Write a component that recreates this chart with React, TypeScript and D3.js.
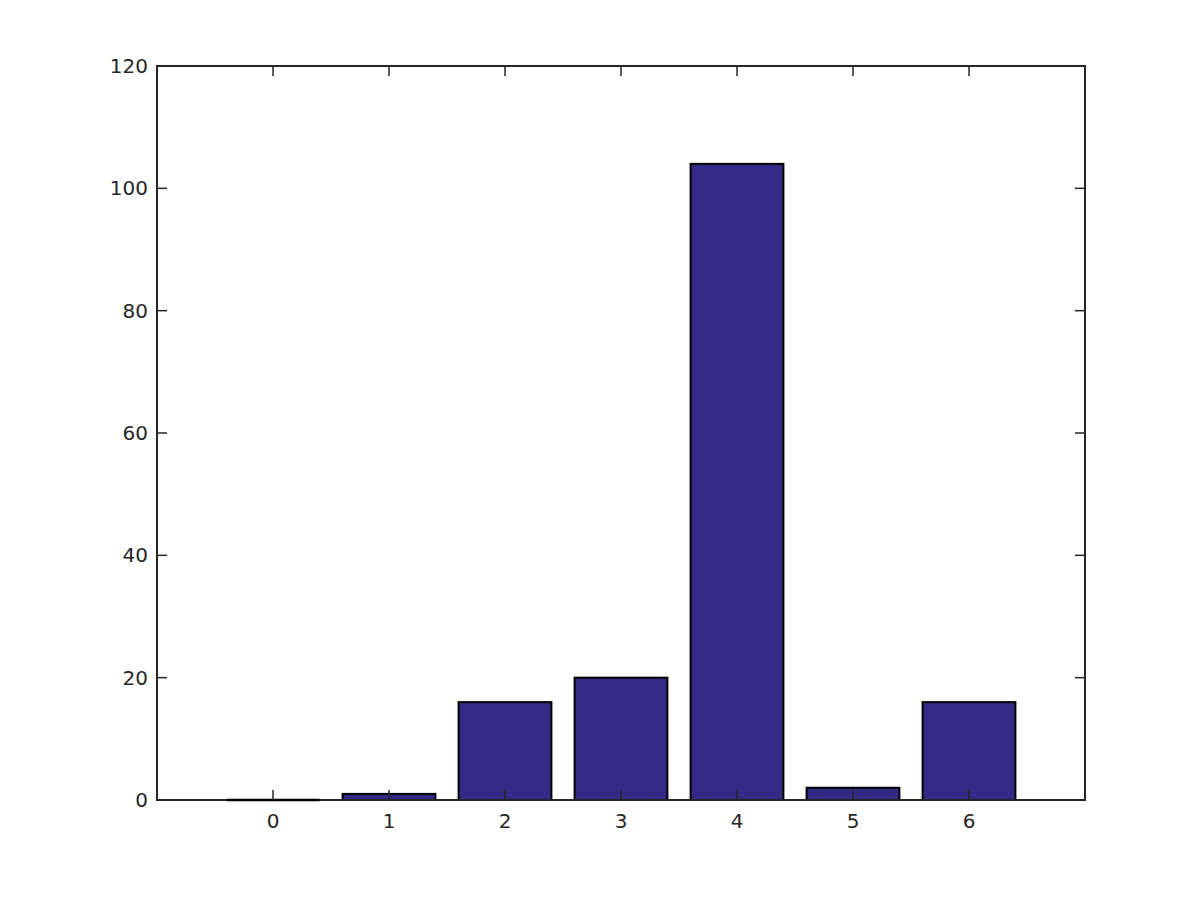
import React from "react";
import * as d3 from "d3";

const categories = [0, 1, 2, 3, 4, 5, 6];
const values = [0, 1, 16, 20, 104, 2, 16];
const yTicks = [0, 20, 40, 60, 80, 100, 120];

export default function App() {
  const W = 1200, H = 900;
  const left = 157, right = 1085, top = 66, bottom = 800;
  const x = d3.scaleLinear().domain([-1, 7]).range([left, right]);
  const y = d3.scaleLinear().domain([0, 120]).range([bottom, top]);
  const bw = x(0.4) - x(0);
  const tickLen = 10;
  const axisColor = "#262626";
  const font = "DejaVu Sans, sans-serif";
  return (
    <svg width={W} height={H} style={{ position: "absolute", left: 0, top: 0, background: "#fff" }}>
      {categories.map((c, i) =>
        values[i] === 0 ? null : (
          <rect key={c} x={x(c) - bw} y={y(values[i])} width={bw * 2} height={y(0) - y(values[i])}
            fill="#332a85" stroke="#000" strokeWidth={2} />
        )
      )}
      <rect x={left} y={top} width={right - left} height={bottom - top} fill="none" stroke={axisColor} strokeWidth={2} />
      {categories.map((c, i) =>
        values[i] === 0 ? (
          <line key={"z" + c} x1={x(c) - bw} x2={x(c) + bw} y1={y(0)} y2={y(0)} stroke="#000" strokeWidth={2.5} />
        ) : null
      )}
      {categories.map((c) => (
        <g key={"xt" + c}>
          <line x1={x(c)} x2={x(c)} y1={bottom} y2={bottom - tickLen} stroke={axisColor} strokeWidth={1.5} />
          <line x1={x(c)} x2={x(c)} y1={top} y2={top + tickLen} stroke={axisColor} strokeWidth={1.5} />
          <text x={x(c)} y={bottom + 28} textAnchor="middle" fontFamily={font} fontSize={20} fill={axisColor}>{c}</text>
        </g>
      ))}
      {yTicks.map((t) => (
        <g key={"yt" + t}>
          <line x1={left} x2={left + tickLen} y1={y(t)} y2={y(t)} stroke={axisColor} strokeWidth={1.5} />
          <line x1={right} x2={right - tickLen} y1={y(t)} y2={y(t)} stroke={axisColor} strokeWidth={1.5} />
          <text x={left - 9} y={y(t)} dy="0.35em" textAnchor="end" fontFamily={font} fontSize={20} fill={axisColor}>{t}</text>
        </g>
      ))}
    </svg>
  );
}
